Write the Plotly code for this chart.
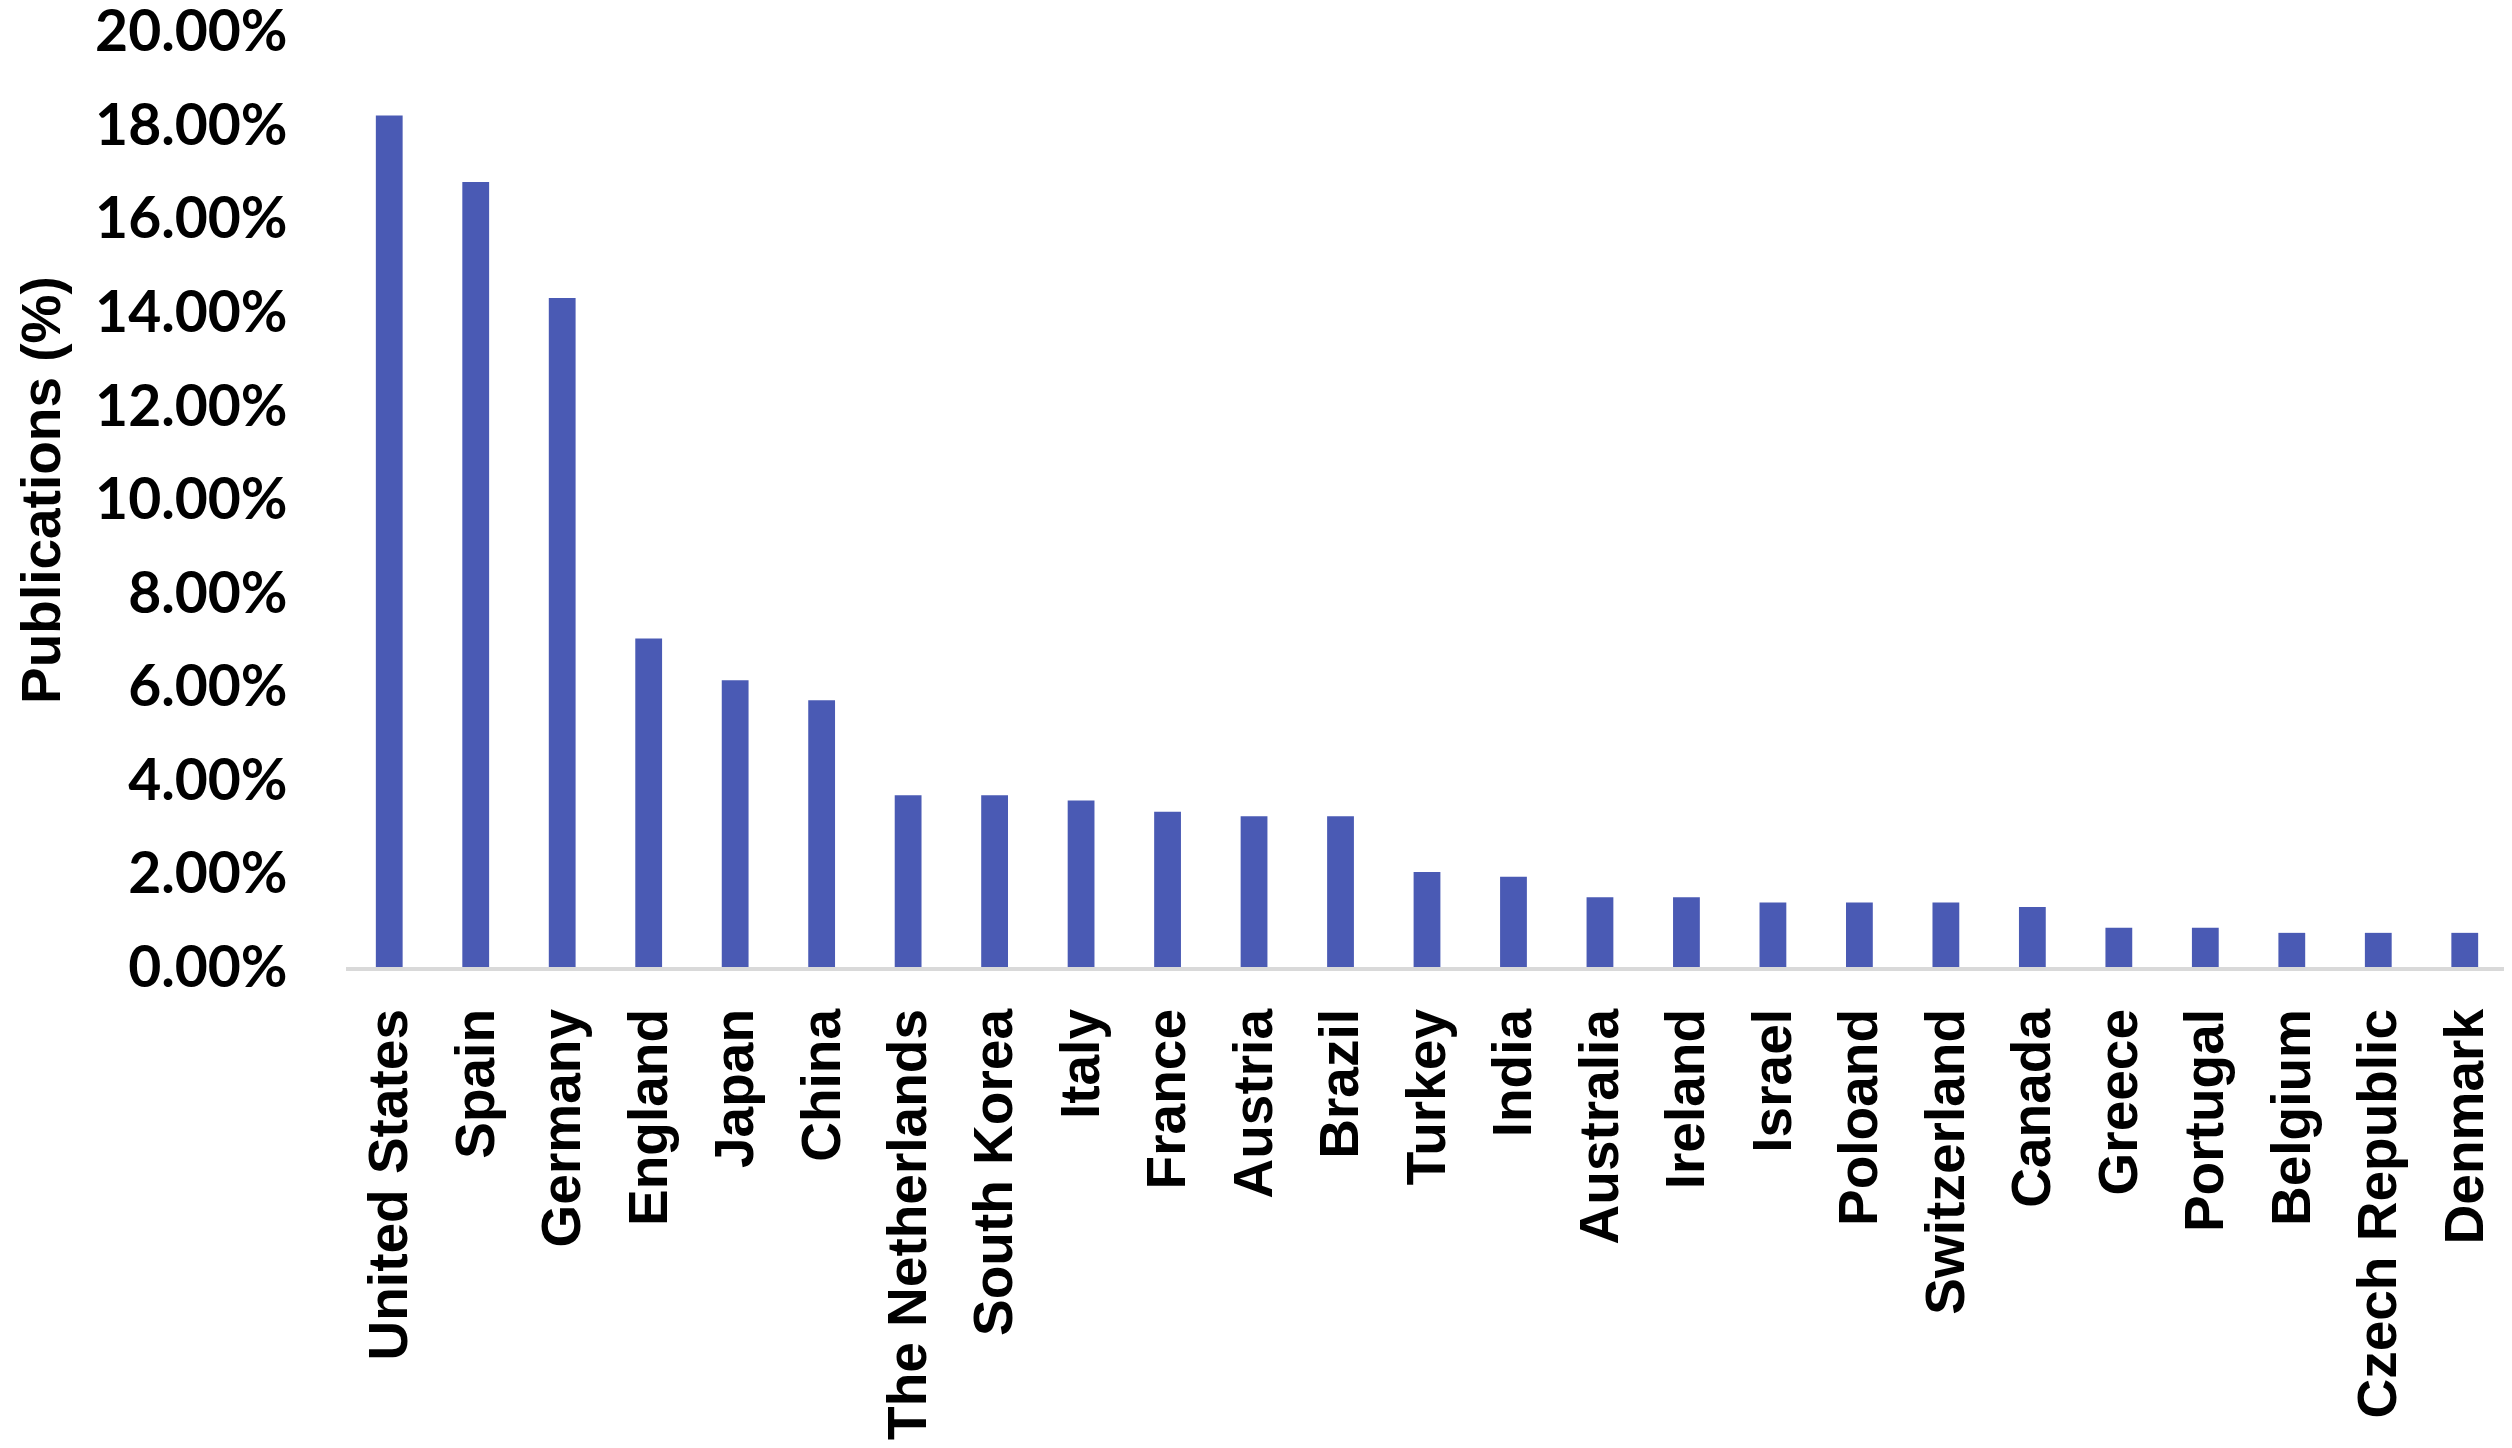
import plotly.graph_objects as go

countries = ["United States", "Spain", "Germany", "England", "Japan", "China",
             "The Netherlands", "South Korea", "Italy", "France", "Austria", "Brazil",
             "Turkey", "India", "Australia", "Ireland", "Israel", "Poloand",
             "Switzerland", "Canada", "Greece", "Portugal", "Belgium",
             "Czech Republic", "Denmark"]
share_pct = [18.20, 16.78, 14.30, 7.02, 6.13, 5.70,
             3.67, 3.67, 3.56, 3.32, 3.22, 3.22,
             2.03, 1.93, 1.49, 1.49, 1.38, 1.38,
             1.38, 1.28, 0.84, 0.84, 0.73,
             0.73, 0.73]
y_ticks = [0.00, 0.02, 0.04, 0.06, 0.08, 0.10, 0.12, 0.14, 0.16, 0.18, 0.20]
y_title = "Publications (%)"

values = [v / 100 for v in share_pct]

fig = go.Figure(go.Bar(
    x=countries, y=values,
    marker=dict(color="#4a5ab4", line=dict(width=0)),
))

fig.update_layout(
    width=2512, height=1448,
    margin=dict(l=338, r=12, t=21, b=489, autoexpand=False),
    paper_bgcolor="white", plot_bgcolor="white",
    bargap=0.69,
    showlegend=False,
    font=dict(family="Liberation Sans, Arial, sans-serif", color="black"),
)

fig.update_xaxes(
    type="category",
    tickangle=-90,
    tickfont=dict(family="Liberation Sans, Arial, sans-serif", size=55, color="black", weight="bold"),
    showline=True, linecolor="#d9d9d9", linewidth=4,
    showgrid=False, zeroline=False,
    ticks="outside", ticklen=16, tickcolor="rgba(0,0,0,0)",
    automargin=False,
)

fig.update_yaxes(
    range=[0, 0.2005],
    tickvals=y_ticks,
    tickformat=".2%",
    ticklabeloverflow="allow",
    tickfont=dict(family="Lato, sans-serif", size=57, color="black", weight="bold"),
    showgrid=False, zeroline=False, showline=False,
    ticks="outside", ticklen=46, tickcolor="rgba(0,0,0,0)",
    automargin=False,
)

# y-axis title placed as a rotated annotation (axis titles are clamped inside the margin)
fig.add_annotation(
    text=y_title, textangle=-90,
    xref="paper", yref="paper", x=0, y=0.5,
    xanchor="center", yanchor="middle",
    xshift=-305, yshift=8, borderpad=0,
    showarrow=False,
    font=dict(family="Liberation Sans, Arial, sans-serif", size=55, color="black", weight="bold"),
)

fig.write_html("out.html")
